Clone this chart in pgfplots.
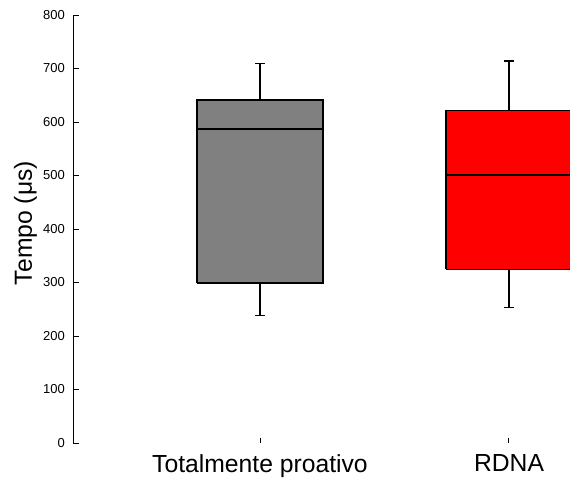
\documentclass[border=0pt]{standalone}
\usepackage{fontspec}
\setmainfont{Liberation Sans}
\usepackage{pgfplots}
\pgfplotsset{compat=1.18}
\definecolor{boxgray}{RGB}{128,128,128}
\definecolor{boxred}{RGB}{255,0,0}
\begin{document}
\begin{tikzpicture}
\begin{axis}[
  at={(0,0)}, anchor=south west,
  scale only axis,
  width=496.5pt, height=428pt,
  xmin=0.251, xmax=2.245,
  ymin=0, ymax=800,
  axis lines*=left,
  x axis line style={draw=none},
  y axis line style={line width=1.2pt},
  tick align=inside,
  major tick length=5pt,
  tick style={black, line width=1pt},
  xtick={1,2},
  xticklabels={Totalmente proativo, RDNA},
  ytick={0,100,...,800},
  /pgf/number format/assume math mode=true,
  yticklabel style={font=\fontsize{13}{15}\selectfont, inner sep=0pt, anchor=east, xshift=-8.5pt},
  xticklabel style={font=\fontsize{24.7}{28}\selectfont, inner sep=0pt, anchor=north, yshift=-11.7pt},
  ylabel={Tempo (μs)},
  ylabel style={font=\fontsize{24.7}{28}\selectfont, at={(axis description cs:0,0.5)}, anchor=center, yshift=48pt, xshift=6pt, inner sep=0pt},
  clip=true,
]
% Totalmente proativo: lw 239, q1 299, med 587, q3 641, uw 710
\addplot[fill=boxgray, draw=black, line width=1.2pt, line join=miter] coordinates {(0.747,299) (1.253,299) (1.253,641) (0.747,641) (0.747,299)};
\addplot[black, line width=1.2pt] coordinates {(0.747,587) (1.253,587)};
\addplot[black, line width=1.2pt] coordinates {(1,641) (1,710)};
\addplot[black, line width=1.2pt] coordinates {(1,299) (1,239)};
\addplot[black, line width=1.2pt] coordinates {(0.98,710) (1.02,710)};
\addplot[black, line width=1.2pt] coordinates {(0.98,239) (1.02,239)};
% RDNA: lw 254, q1 325, med 501, q3 622, uw 714
\addplot[fill=boxred, draw=black, line width=1.2pt, line join=miter] coordinates {(1.747,325) (2.253,325) (2.253,622) (1.747,622) (1.747,325)};
\addplot[black, line width=1.2pt] coordinates {(1.747,501) (2.253,501)};
\addplot[black, line width=1.2pt] coordinates {(2,622) (2,714)};
\addplot[black, line width=1.2pt] coordinates {(2,325) (2,254)};
\addplot[black, line width=1.2pt] coordinates {(1.98,714) (2.02,714)};
\addplot[black, line width=1.2pt] coordinates {(1.98,254) (2.02,254)};
\end{axis}
\pgfresetboundingbox
\useasboundingbox (-73.5pt,-34pt) rectangle (496.5pt,443pt);
\end{tikzpicture}
\end{document}
